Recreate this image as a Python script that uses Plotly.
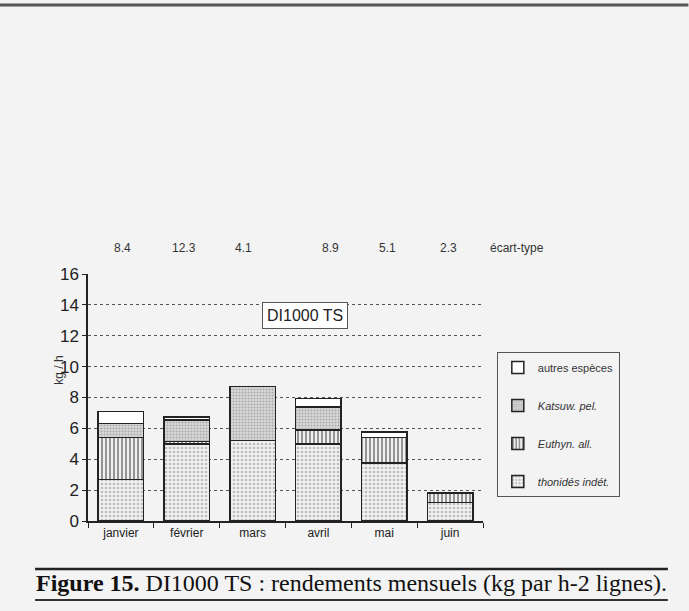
import plotly.graph_objects as go

months = ["janvier", "février", "mars", "avril", "mai", "juin"]
thonides_indet = [2.7, 5.0, 5.2, 5.0, 3.75, 1.2]
katsuw_pel = [0.9, 1.4, 3.5, 1.5, 0.0, 0.0]
euthyn_all = [2.7, 0.15, 0.0, 0.9, 1.65, 0.6]
autres_especes = [0.8, 0.2, 0.0, 0.55, 0.35, 0.0]
ecart_type = ["8.4", "12.3", "4.1", "8.9", "5.1", "2.3"]
ecart_shift = [2, -3, -9, 12, 3, -2]
yticks = [0, 2, 4, 6, 8, 10, 12, 14, 16]

BG = "#f3f3f3"
fig = go.Figure()

series = [
    ("<i>thonidés indét.</i>", thonides_indet, 4,
     dict(shape=".", fgcolor="#8a8a8a", bgcolor="#f0f0f0", size=4, solidity=0.35)),
    ("<i>Euthyn. all.</i>", euthyn_all, 3,
     dict(shape="|", fgcolor="#222222", bgcolor="#f0f0f0", size=4, solidity=0.45)),
    ("<i>Katsuw. pel.</i>", katsuw_pel, 2,
     dict(shape=".", fgcolor="#777777", bgcolor="#dadada", size=3, solidity=0.4)),
    ("autres espèces", autres_especes, 1,
     dict(shape="", fgcolor="#ffffff", bgcolor="#ffffff")),
]
for i, (name, vals, rank, pat) in enumerate(series):
    fig.add_trace(go.Bar(
        x=months, y=vals, name=name, legendgroup=str(i), legendrank=rank,
        marker=dict(color=pat["bgcolor"], line=dict(color="#222222", width=1.5), pattern=pat),
    ))

annotations = []
for m, e, s in zip(months, ecart_type, ecart_shift):
    annotations.append(dict(x=m, y=1.105, xref="x", yref="paper", text=e, showarrow=False,
                            xanchor="center", yanchor="middle",
                            xshift=s, font=dict(size=12, color="#333333")))
annotations.append(dict(x=1.086, y=1.105, xref="paper", yref="paper", text="écart-type",
                        xanchor="center", yanchor="middle",
                        showarrow=False, font=dict(size=12, color="#333333")))
annotations.append(dict(x=-0.072, y=0.611, xref="paper", yref="paper", text="kg / h", textangle=-90,
                        xanchor="center", yanchor="middle",
                        showarrow=False, font=dict(size=12, color="#333333")))
annotations.append(dict(x=0.549, y=0.83, xref="paper", yref="paper", text="DI1000 TS",
                        xanchor="center", yanchor="middle",
                        showarrow=False, font=dict(size=16, color="#222222"),
                        bgcolor="#ffffff", bordercolor="#555555", borderwidth=1, borderpad=4))
annotations.append(dict(x=0.668, y=-0.252, xref="paper", yref="paper",
                        xanchor="center", yanchor="middle",
                        text="<b>Figure 15.</b> DI1000 TS : rendements mensuels (kg par h-2 lignes).",
                        showarrow=False, font=dict(size=24, color="#111111", family="Liberation Serif")))

shapes = [
    dict(type="line", xref="paper", yref="paper", x0=-0.134, x1=1.468, y0=-0.194, y1=-0.194,
         line=dict(color="#222222", width=2.5)),
    dict(type="line", xref="paper", yref="paper", x0=-0.134, x1=1.468, y0=-0.32, y1=-0.32,
         line=dict(color="#333333", width=2)),
    dict(type="line", xref="paper", yref="paper", x0=-0.25, x1=1.52, y0=2.089, y1=2.089,
         line=dict(color="#555555", width=3)),
]

fig.update_layout(
    width=689, height=611,
    margin=dict(l=88, r=206, t=274, b=90),
    paper_bgcolor=BG, plot_bgcolor=BG,
    barmode="stack", bargap=0.31,
    font=dict(family="Liberation Sans", color="#333333"),
    showlegend=True,
    legend=dict(x=1.035, y=0.684, xanchor="left", yanchor="top",
                traceorder="grouped", tracegroupgap=19,
                bordercolor="#555555", borderwidth=1, bgcolor=BG,
                font=dict(size=11, color="#333333", family="Liberation Sans"),
                itemwidth=30),
    annotations=annotations,
    shapes=shapes,
)
fig.update_xaxes(showline=True, linecolor="#222222", linewidth=1.5, automargin=False,
                 ticks="outside", tickson="boundaries", ticklen=5, tickcolor="#222222",
                 tickfont=dict(size=12, color="#222222"), showgrid=False)
fig.update_yaxes(range=[0, 16], tickvals=yticks, showline=True, linecolor="#222222", linewidth=1.5,
                 automargin=False,
                 ticks="outside", ticklen=4, tickcolor="#222222",
                 tickfont=dict(size=17, color="#222222"),
                 showgrid=True, gridcolor="#555555", griddash="dot", gridwidth=1.3,
                 zeroline=False)

fig.write_html("out.html", config={"displayModeBar": False},
               post_script="document.body.style.margin='0';document.body.style.background='%s';" % BG)
